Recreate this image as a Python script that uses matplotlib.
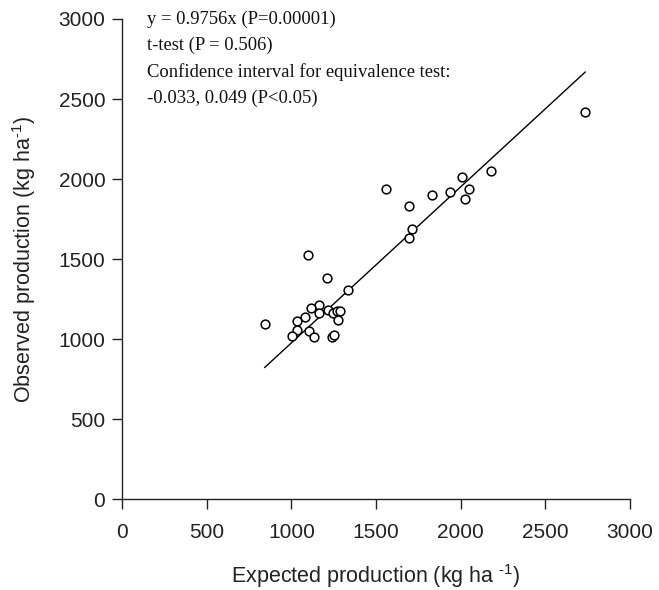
import matplotlib
matplotlib.use("Agg")
import matplotlib.pyplot as plt
import numpy as np

expected = [843, 1098, 1209, 1337, 1165, 1116, 1083, 1032, 1032, 1006, 1106, 1134,
            1165, 1215, 1245, 1272, 1288, 1278, 1239, 1253,
            1559, 1695, 1831, 1713, 1695, 1935, 2010, 2048, 2026, 2180, 2735]
observed = [1092, 1525, 1379, 1308, 1212, 1192, 1140, 1110, 1058, 1020, 1049, 1010,
            1160, 1182, 1164, 1175, 1175, 1119, 1013, 1025,
            1939, 1831, 1897, 1687, 1633, 1920, 2015, 1940, 1877, 2048, 2417]
slope = 0.9756
xticks = [0, 500, 1000, 1500, 2000, 2500, 3000]
yticks = [0, 500, 1000, 1500, 2000, 2500, 3000]
annot = ["y = 0.9756x (P=0.00001)", "t-test (P = 0.506)",
         "Confidence interval for equivalence test:", "-0.033, 0.049 (P<0.05)"]

plt.rcParams['font.family'] = ['Liberation Sans', 'DejaVu Sans']
plt.rcParams['mathtext.fontset'] = 'custom'
plt.rcParams['mathtext.rm'] = 'Liberation Sans'
plt.rcParams['mathtext.it'] = 'Liberation Sans:italic'

fig = plt.figure(figsize=(6.59, 5.90), dpi=100)
ax = fig.add_axes([0.1851, 0.1542, 0.771, 0.8136])

ax.plot(expected, observed, 'o', mfc='white', mec='black', ms=6.3, mew=1.1, zorder=3)
xl = np.array([min(expected), max(expected)])
ax.plot(xl, slope * xl, color='black', lw=1.0, zorder=2)

ax.set_xlim(0, 3000)
ax.set_ylim(0, 3000)
ax.set_xticks(xticks)
ax.set_yticks(yticks)
ax.tick_params(direction='out', length=7, width=1, labelsize=15, colors='#222222')
ax.tick_params(axis='y', pad=5)
ax.tick_params(axis='x', pad=10)
for s in ['top', 'right']:
    ax.spines[s].set_visible(False)
for s in ['left', 'bottom']:
    ax.spines[s].set_linewidth(1.0)
    ax.spines[s].set_color('#222222')

ax.set_xlabel(r"Expected production (kg ha $^{\text{-}1}$)", fontsize=15.5, color='#222222', labelpad=15)
ax.set_ylabel(r"Observed production (kg ha$^{\text{-}1}$)", fontsize=15.5, color='#222222', labelpad=15)

for i, t in enumerate(annot):
    ax.text(0.049, 1.0 - i * 0.055, t, transform=ax.transAxes, fontsize=13.4,
            family=['Liberation Serif'], va='center', ha='left', color='#111111')

fig.savefig('out.png', dpi=100)
